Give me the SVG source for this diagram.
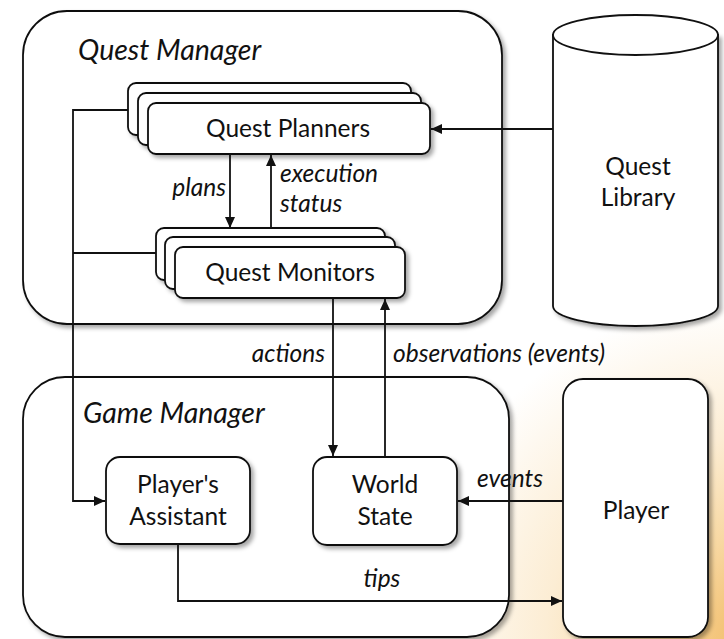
<svg xmlns="http://www.w3.org/2000/svg" width="724" height="639" viewBox="0 0 724 639">
  <defs>
    <radialGradient id="bg" cx="750" cy="640" r="340" gradientUnits="userSpaceOnUse">
      <stop offset="0" stop-color="#f2bd6a"/>
      <stop offset="0.3" stop-color="#f8d8a2"/>
      <stop offset="0.6" stop-color="#fcedd4"/>
      <stop offset="1" stop-color="#ffffff"/>
    </radialGradient>
    <filter id="sh" x="-10%" y="-10%" width="130%" height="130%">
      <feDropShadow dx="3" dy="3" stdDeviation="2" flood-color="#000" flood-opacity="0.35"/>
    </filter>
    <marker id="arr" markerUnits="userSpaceOnUse" markerWidth="12" markerHeight="10" refX="11" refY="5" orient="auto">
      <path d="M0,0 L11,5 L0,10 Z" fill="#111"/>
    </marker>
    <style>
      .box { fill: #fff; stroke: #111; stroke-width: 1.8; }
      .sh { filter: url(#sh); }
      .lbl { font-family: Lato, "Open Sans", sans-serif; font-size: 24.5px; fill: #111; }
      .it { font-family: Lato, "Open Sans", sans-serif; font-size: 24.5px; font-style: italic; fill: #111; }
      .hd { font-family: Lato, "Open Sans", sans-serif; font-size: 28.5px; font-style: italic; fill: #111; }
      .c { text-anchor: middle; }
      .e { text-anchor: end; }
      .ln { fill: none; stroke: #111; stroke-width: 1.8; }
    </style>
  </defs>

  <rect width="724" height="639" fill="url(#bg)"/>

  <g id="quest-manager">
    <rect class="box sh" x="23" y="11" width="479" height="313" rx="44"/>
    <text class="hd" x="78" y="60">Quest Manager</text>
  </g>

  <g id="game-manager">
    <rect class="box sh" x="23" y="377" width="486" height="260" rx="42"/>
    <text class="hd" x="83" y="423">Game Manager</text>
  </g>

  <g id="quest-library">
    <path class="box sh" d="M553,35 L553,306 A82.5,20 0 0 0 718,306 L718,35 Z"/>
    <ellipse class="box" cx="635.5" cy="35" rx="82.5" ry="20"/>
    <text class="lbl c" x="638" y="175">Quest</text>
    <text class="lbl c" x="638" y="206">Library</text>
  </g>

  <g id="player">
    <rect class="box sh" x="563" y="379" width="145" height="258" rx="20"/>
    <text class="lbl c" x="636" y="519">Player</text>
  </g>

  <g id="quest-planners">
    <rect class="box sh" x="128" y="83" width="283" height="52" rx="8"/>
    <rect class="box sh" x="138" y="93" width="283" height="52" rx="8"/>
    <rect class="box sh" x="148" y="103" width="282" height="51" rx="8"/>
    <text class="lbl c" x="288" y="137">Quest Planners</text>
  </g>

  <g id="quest-monitors">
    <rect class="box sh" x="156" y="228" width="229" height="52" rx="8"/>
    <rect class="box sh" x="165" y="237" width="230" height="52" rx="8"/>
    <rect class="box sh" x="175" y="247" width="230" height="51" rx="8"/>
    <text class="lbl c" x="290" y="281">Quest Monitors</text>
  </g>

  <g id="players-assistant">
    <rect class="box sh" x="106" y="457" width="144" height="87" rx="14"/>
    <text class="lbl c" x="178" y="493">Player's</text>
    <text class="lbl c" x="178" y="525">Assistant</text>
  </g>

  <g id="world-state">
    <rect class="box sh" x="313" y="457" width="144" height="88" rx="14"/>
    <text class="lbl c" x="385" y="493">World</text>
    <text class="lbl c" x="385" y="525">State</text>
  </g>

  <g id="connectors">
    <line class="ln" x1="553" y1="129" x2="431" y2="129" marker-end="url(#arr)"/>
    <line class="ln" x1="230" y1="154" x2="230" y2="228" marker-end="url(#arr)"/>
    <line class="ln" x1="271" y1="228" x2="271" y2="155" marker-end="url(#arr)"/>
    <polyline class="ln" points="128,110 73,110 73,501 105,501" marker-end="url(#arr)"/>
    <line class="ln" x1="73" y1="253" x2="156" y2="253"/>
    <line class="ln" x1="333" y1="298" x2="333" y2="456" marker-end="url(#arr)"/>
    <line class="ln" x1="385" y1="457" x2="385" y2="299" marker-end="url(#arr)"/>
    <line class="ln" x1="563" y1="501" x2="458" y2="501" marker-end="url(#arr)"/>
    <polyline class="ln" points="178,544 178,601 562,601" marker-end="url(#arr)"/>
    <text class="it e" x="226" y="196">plans</text>
    <text class="it" x="280" y="182">execution</text>
    <text class="it" x="280" y="212">status</text>
    <text class="it e" x="325" y="362">actions</text>
    <text class="it" x="393" y="362">observations (events)</text>
    <text class="it" x="477" y="487">events</text>
    <text class="it c" x="382" y="587">tips</text>
  </g>
</svg>
